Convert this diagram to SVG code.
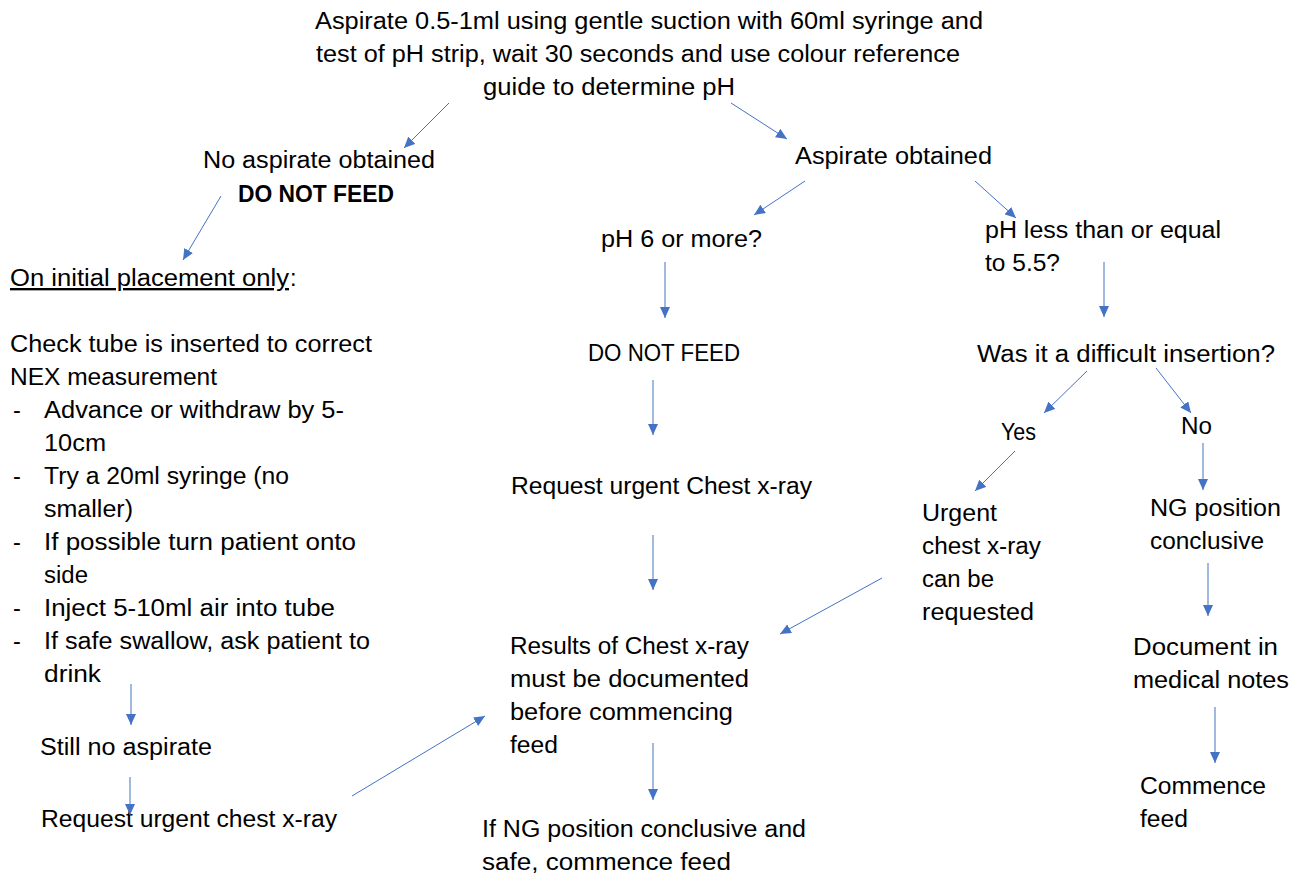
<svg xmlns="http://www.w3.org/2000/svg" width="1303" height="875" viewBox="0 0 1303 875">
<style>
text{font-family:"Liberation Sans",Arial,sans-serif;font-size:23.5px;fill:#000}
.b{font-weight:bold}
.c line{stroke:#4472C4;stroke-width:1;marker-end:url(#ah)}
</style>
<defs>
<marker id="ah" markerUnits="userSpaceOnUse" markerWidth="12" markerHeight="10" refX="11" refY="5" orient="auto">
<path d="M0,0 L11,5 L0,10 Z" fill="#4472C4"/>
</marker>
</defs>
<rect width="1303" height="875" fill="#fff"/>
<g id="n-start" lengthAdjust="spacingAndGlyphs">
<text x="315" y="29" textLength="668" lengthAdjust="spacingAndGlyphs">Aspirate 0.5-1ml using gentle suction with 60ml syringe and</text>
<text x="316" y="62" textLength="644" lengthAdjust="spacingAndGlyphs">test of pH strip, wait 30 seconds and use colour reference</text>
<text x="483" y="95" textLength="252" lengthAdjust="spacingAndGlyphs">guide to determine pH</text>
</g>
<g id="n-noasp">
<text x="203" y="168" textLength="232" lengthAdjust="spacingAndGlyphs">No aspirate obtained</text>
<text x="238" y="202" class="b" textLength="156" lengthAdjust="spacingAndGlyphs">DO NOT FEED</text>
</g>
<g id="n-asp"><text x="795" y="164" textLength="197" lengthAdjust="spacingAndGlyphs">Aspirate obtained</text></g>
<g id="n-initial">
<text x="10" y="286" text-decoration="underline" textLength="279" lengthAdjust="spacingAndGlyphs">On initial placement only</text><text x="290" y="286">:</text>
<text x="10" y="352" textLength="362" lengthAdjust="spacingAndGlyphs">Check tube is inserted to correct</text>
<text x="10" y="385" textLength="207" lengthAdjust="spacingAndGlyphs">NEX measurement</text>
<text x="13" y="418">-</text><text x="44" y="418" textLength="300" lengthAdjust="spacingAndGlyphs">Advance or withdraw by 5-</text>
<text x="44" y="451" textLength="62" lengthAdjust="spacingAndGlyphs">10cm</text>
<text x="13" y="484">-</text><text x="44" y="484" textLength="245" lengthAdjust="spacingAndGlyphs">Try a 20ml syringe (no</text>
<text x="44" y="517" textLength="89" lengthAdjust="spacingAndGlyphs">smaller)</text>
<text x="13" y="550">-</text><text x="44" y="550" textLength="312" lengthAdjust="spacingAndGlyphs">If possible turn patient onto</text>
<text x="44" y="583" textLength="44" lengthAdjust="spacingAndGlyphs">side</text>
<text x="13" y="616">-</text><text x="44" y="616" textLength="291" lengthAdjust="spacingAndGlyphs">Inject 5-10ml air into tube</text>
<text x="13" y="649">-</text><text x="44" y="649" textLength="326" lengthAdjust="spacingAndGlyphs">If safe swallow, ask patient to</text>
<text x="44" y="682" textLength="57" lengthAdjust="spacingAndGlyphs">drink</text>
</g>
<g id="n-still"><text x="40" y="755" textLength="172" lengthAdjust="spacingAndGlyphs">Still no aspirate</text></g>
<g id="n-reqleft"><text x="41" y="827" textLength="296" lengthAdjust="spacingAndGlyphs">Request urgent chest x-ray</text></g>
<g id="n-ph6"><text x="601" y="247" textLength="161" lengthAdjust="spacingAndGlyphs">pH 6 or more?</text></g>
<g id="n-dnf"><text x="588" y="361" textLength="152" lengthAdjust="spacingAndGlyphs">DO NOT FEED</text></g>
<g id="n-req"><text x="511" y="494" textLength="301" lengthAdjust="spacingAndGlyphs">Request urgent Chest x-ray</text></g>
<g id="n-results">
<text x="510" y="654" textLength="239" lengthAdjust="spacingAndGlyphs">Results of Chest x-ray</text>
<text x="510" y="687" textLength="239" lengthAdjust="spacingAndGlyphs">must be documented</text>
<text x="510" y="720" textLength="223" lengthAdjust="spacingAndGlyphs">before commencing</text>
<text x="510" y="753" textLength="48" lengthAdjust="spacingAndGlyphs">feed</text>
</g>
<g id="n-ifng">
<text x="482" y="837" textLength="324" lengthAdjust="spacingAndGlyphs">If NG position conclusive and</text>
<text x="482" y="870" textLength="249" lengthAdjust="spacingAndGlyphs">safe, commence feed</text>
</g>
<g id="n-phless">
<text x="985" y="238" textLength="236" lengthAdjust="spacingAndGlyphs">pH less than or equal</text>
<text x="985" y="271" textLength="75" lengthAdjust="spacingAndGlyphs">to 5.5?</text>
</g>
<g id="n-diff"><text x="977" y="362" textLength="298" lengthAdjust="spacingAndGlyphs">Was it a difficult insertion?</text></g>
<g id="n-yes"><text x="1001" y="440" textLength="35" lengthAdjust="spacingAndGlyphs">Yes</text></g>
<g id="n-no"><text x="1181" y="434" textLength="31" lengthAdjust="spacingAndGlyphs">No</text></g>
<g id="n-urgent">
<text x="922" y="521" textLength="75" lengthAdjust="spacingAndGlyphs">Urgent</text>
<text x="922" y="554" textLength="119" lengthAdjust="spacingAndGlyphs">chest x-ray</text>
<text x="922" y="587" textLength="72" lengthAdjust="spacingAndGlyphs">can be</text>
<text x="922" y="620" textLength="112" lengthAdjust="spacingAndGlyphs">requested</text>
</g>
<g id="n-ngpos">
<text x="1150" y="516" textLength="131" lengthAdjust="spacingAndGlyphs">NG position</text>
<text x="1150" y="549" textLength="114" lengthAdjust="spacingAndGlyphs">conclusive</text>
</g>
<g id="n-doc">
<text x="1133" y="655" textLength="145" lengthAdjust="spacingAndGlyphs">Document in</text>
<text x="1133" y="688" textLength="156" lengthAdjust="spacingAndGlyphs">medical notes</text>
</g>
<g id="n-commence">
<text x="1140" y="794" textLength="126" lengthAdjust="spacingAndGlyphs">Commence</text>
<text x="1140" y="827" textLength="48" lengthAdjust="spacingAndGlyphs">feed</text>
</g>
<g id="connectors" class="c">
<line x1="449" y1="103" x2="404" y2="148"/>
<line x1="731" y1="103" x2="787" y2="139"/>
<line x1="221" y1="196" x2="183" y2="260"/>
<line x1="805" y1="181" x2="754" y2="215"/>
<line x1="975" y1="181" x2="1016" y2="218"/>
<line x1="665" y1="262" x2="665" y2="318"/>
<line x1="653" y1="380" x2="653" y2="435"/>
<line x1="653" y1="535" x2="653" y2="590"/>
<line x1="1104" y1="262" x2="1104" y2="317"/>
<line x1="1087" y1="371" x2="1044" y2="413"/>
<line x1="1156" y1="368" x2="1191" y2="413"/>
<line x1="1015" y1="451" x2="975" y2="491"/>
<line x1="1203" y1="443" x2="1203" y2="490"/>
<line x1="882" y1="578" x2="780" y2="634"/>
<line x1="1208" y1="563" x2="1208" y2="616"/>
<line x1="1215" y1="707" x2="1215" y2="763"/>
<line x1="131" y1="684" x2="131" y2="725"/>
<line x1="130" y1="777" x2="130" y2="815"/>
<line x1="352" y1="796" x2="485" y2="716"/>
<line x1="653" y1="743" x2="653" y2="800"/>
</g>
</svg>
